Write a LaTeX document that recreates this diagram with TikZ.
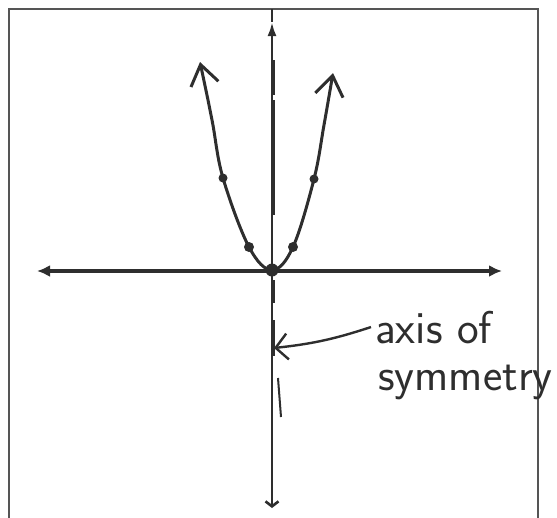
\documentclass[tikz,border=0pt]{standalone}
\usepackage{xcolor}
\usepackage{tikz}
\usetikzlibrary{arrows.meta,positioning,calc}
\definecolor{ink}{HTML}{2E2E2E}
\definecolor{boxgray}{HTML}{555555}

\begin{document}
\begin{tikzpicture}[
    x=1pt, y=-1pt,
    >=Latex,
    boxline/.style={draw=boxgray, line width=1.4pt},
    haxis/.style={draw=ink, line width=3.6pt},
    vaxis/.style={draw=ink, line width=2.6pt},
    symline/.style={draw=ink, line width=4.2pt},
    parab/.style={draw=ink, line width=3pt, line cap=round},
    dot/.style={circle, fill=ink, inner sep=0pt, minimum size=10pt},
    note/.style={font=\fontsize{46}{49}\selectfont\sffamily, text=ink, inner sep=4pt},
    pointer/.style={draw=ink, line width=2.4pt, -{Straight Barb[length=12pt,width=26pt]}}
]
\clip (0,0) rectangle (557,517);
\draw[boxline] (9,530) -- (9,9) -- (538,9) -- (538,530);

\coordinate (xleft) at (37,271);
\coordinate (xright) at (502,271);
\coordinate (ytop) at (272,9);
\coordinate (yarr) at (272,22);
\coordinate (ybot) at (272,508);
\coordinate (tipL) at (200,62);
\coordinate (tipR) at (333,73);
\coordinate (symtip) at (274,348);

\node[dot, minimum size=13pt] (vert) at (272,270) {};
\node[dot] (pL1) at (249,247) {};
\node[dot] (pR1) at (293,247) {};
\node[dot, minimum size=9pt] (pL2) at (223,178) {};
\node[dot, minimum size=9pt] (pR2) at (314,179) {};

\draw[haxis, {Latex[length=13pt,width=12pt]}-{Latex[length=13pt,width=12pt]}] (xleft) -- (xright);
\draw[vaxis] (ytop) -- (yarr);
\draw[vaxis, {Latex[length=14pt,width=9pt]}-{Straight Barb[length=5pt,width=13pt]}] (yarr) -- (ybot);

% dashed axis of symmetry
\foreach \a/\b in {60/95, 100/215, 280/303, 320/356}
    \draw[symline] (273,\a) -- (273,\b);
\draw[line width=2pt, ink] (278,378) -- (281,417);

\draw[parab, {Straight Barb[length=20pt,width=28pt]}-{Straight Barb[length=20pt,width=28pt]}]
    plot[smooth, tension=0.6] coordinates {(tipL) (212,120) (pL2.center) (pL1.center) (vert.center) (pR1.center) (pR2.center) (324,125) (tipR)};

\node[note, anchor=base west] (axisA) at (371,343) {axis of};
\node[note, anchor=base west] (axisB) at (374,390) {symmetry};
\draw[pointer] (axisA.west) to[bend left=6] (symtip);
\end{tikzpicture}
\end{document}
